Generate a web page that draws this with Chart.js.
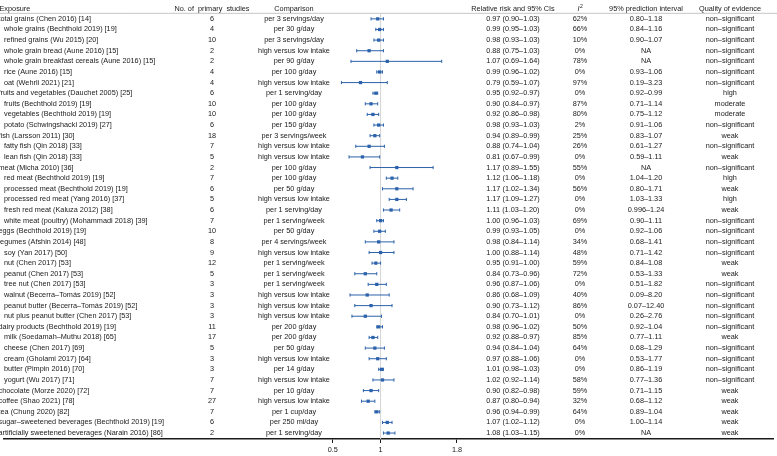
<!DOCTYPE html>
<html>
<head>
<meta charset="utf-8">
<script src="https://cdn.jsdelivr.net/npm/chart.js@4.4.1/dist/chart.umd.min.js"></script>
<style>
html,body{margin:0;padding:0;background:#fff;}
#wrap{width:777px;height:456px;}
</style>
</head>
<body>
<div id="wrap"><canvas id="forest"></canvas></div>
<script>
var exposures=["total grains (Chen 2016) [14]","whole grains (Bechthold 2019) [19]","refined grains (Wu 2015) [20]","whole grain bread (Aune 2016) [15]","whole grain breakfast cereals (Aune 2016) [15]","rice (Aune 2016) [15]","oat (Wehrli 2021) [21]","fruits and vegetables (Dauchet 2005) [25]","fruits (Bechthold 2019) [19]","vegetables (Bechthold 2019) [19]","potato (Schwingshackl 2019) [27]","fish (Larsson 2011) [30]","fatty fish (Qin 2018) [33]","lean fish (Qin 2018) [33]","meat (Micha 2010) [36]","red meat (Bechthold 2019) [19]","processed meat (Bechthold 2019) [19]","processed red meat (Yang 2016) [37]","fresh red meat (Kaluza 2012) [38]","white meat (poultry) (Mohammadi 2018) [39]","eggs (Bechthold 2019) [19]","legumes (Afshin 2014) [48]","soy (Yan 2017) [50]","nut (Chen 2017) [53]","peanut (Chen 2017) [53]","tree nut (Chen 2017) [53]","walnut (Becerra\u2013Tomás 2019) [52]","peanut butter (Becerra\u2013Tomás 2019) [52]","nut plus peanut butter (Chen 2017) [53]","dairy products (Bechthold 2019) [19]","milk (Soedamah\u2013Muthu 2018) [65]","cheese (Chen 2017) [69]","cream (Gholami 2017) [64]","butter (Pimpin 2016) [70]","yogurt (Wu 2017) [71]","chocolate (Morze 2020) [72]","coffee (Shao 2021) [78]","tea (Chung 2020) [82]","sugar\u2013sweetened beverages (Bechthold 2019) [19]","artificially sweetened beverages (Narain 2016) [86]"];
var subItem=[0,1,1,1,1,1,1,0,1,1,1,0,1,1,0,1,1,1,1,1,0,0,1,1,1,1,1,1,1,0,1,1,1,1,1,0,0,0,0,0];
var studies=[6,4,10,2,2,4,4,6,10,10,6,18,7,5,2,7,6,5,6,7,10,8,9,12,5,3,3,3,3,11,17,5,3,3,7,7,27,7,6,2];
var comparisons=["per 3 servings/day","per 30 g/day","per 3 servings/day","high versus low intake","per 90 g/day","per 100 g/day","high versus low intake","per 1 serving/day","per 100 g/day","per 100 g/day","per 150 g/day","per 3 servings/week","high versus low intake","high versus low intake","per 100 g/day","per 100 g/day","per 50 g/day","high versus low intake","per 1 serving/day","per 1 serving/week","per 50 g/day","per 4 servings/week","high versus low intake","per 1 serving/week","per 1 serving/week","per 1 serving/week","high versus low intake","high versus low intake","high versus low intake","per 200 g/day","per 200 g/day","per 50 g/day","high versus low intake","per 14 g/day","high versus low intake","per 10 g/day","high versus low intake","per 1 cup/day","per 250 ml/day","per 1 serving/day"];
var rr=[0.97,0.99,0.98,0.88,1.07,0.99,0.79,0.95,0.90,0.92,0.98,0.94,0.88,0.81,1.17,1.12,1.17,1.17,1.11,1.00,0.99,0.98,1.00,0.95,0.84,0.96,0.86,0.90,0.84,0.98,0.92,0.94,0.97,1.01,1.02,0.90,0.87,0.96,1.07,1.08];
var ciLow=[0.90,0.95,0.93,0.75,0.69,0.96,0.59,0.92,0.84,0.86,0.93,0.89,0.74,0.67,0.89,1.06,1.02,1.09,1.03,0.96,0.93,0.84,0.88,0.91,0.73,0.87,0.68,0.73,0.70,0.96,0.88,0.84,0.88,0.98,0.92,0.82,0.80,0.94,1.02,1.03];
var ciHigh=[1.03,1.03,1.03,1.03,1.64,1.02,1.07,0.97,0.97,0.98,1.03,0.99,1.04,0.99,1.55,1.18,1.34,1.27,1.20,1.03,1.05,1.14,1.14,1.00,0.96,1.06,1.09,1.12,1.01,1.02,0.97,1.04,1.06,1.03,1.14,0.98,0.94,0.99,1.12,1.15];
var i2=["62%","66%","10%","0%","78%","0%","97%","0%","87%","80%","2%","25%","26%","0%","55%","0%","56%","0%","0%","69%","0%","34%","48%","59%","72%","0%","40%","86%","0%","50%","85%","64%","0%","0%","58%","59%","32%","64%","0%","0%"];
var predInt=["0.80\u20131.18","0.84\u20131.16","0.90\u20131.07","NA","NA","0.93\u20131.06","0.19\u20133.23","0.92\u20130.99","0.71\u20131.14","0.75\u20131.12","0.91\u20131.06","0.83\u20131.07","0.61\u20131.27","0.59\u20131.11","NA","1.04\u20131.20","0.80\u20131.71","1.03\u20131.33","0.996\u20131.24","0.90\u20131.11","0.92\u20131.06","0.68\u20131.41","0.71\u20131.42","0.84\u20131.08","0.53\u20131.33","0.51\u20131.82","0.09\u20138.20","0.07\u201312.40","0.26\u20132.76","0.92\u20131.04","0.77\u20131.11","0.68\u20131.29","0.53\u20131.77","0.86\u20131.19","0.77\u20131.36","0.71\u20131.15","0.68\u20131.12","0.89\u20131.04","1.00\u20131.14","NA"];
var NS="non\u2013significant";
var quality=[NS,NS,NS,NS,NS,NS,NS,"high","moderate","moderate",NS,"weak",NS,"weak",NS,"high","weak","high","weak",NS,NS,NS,NS,"weak","weak",NS,NS,NS,NS,NS,"weak",NS,NS,NS,NS,"weak","weak","weak","weak","weak"];
var xTicks=[0.5,1,1.8];

var BLUE="#2b62ab";
var INK="#1a1a1a";
var FONT='7.3px "Liberation Sans", Arial, sans-serif';
var cols={studies:212,comparison:294,rr:513,i2:580,pi:646,quality:730};

// map: value 1 sits at x=380.5, 96.5 px per unit over the full 777 px width
var xMin=1-380.5/96.5, xMax=1+(777-380.5)/96.5;

var points=rr.map(function(v,i){return {x:v,y:i};});

var tablePlugin={
    id:"table",
    beforeDatasetsDraw:function(chart){
        var ctx=chart.ctx, xs=chart.scales.x, ys=chart.scales.y;
        var top=ys.getPixelForValue(-0.52), bottom=chart.chartArea.bottom;
        var x1=xs.getPixelForValue(1);
        ctx.save();
        ctx.strokeStyle="#b8b8b8"; ctx.lineWidth=0.8;
        ctx.beginPath(); ctx.moveTo(0,top); ctx.lineTo(chart.width,top); ctx.stroke();
        ctx.strokeStyle="#d4d4d4"; ctx.lineWidth=1;
        ctx.beginPath(); ctx.moveTo(x1,top); ctx.lineTo(x1,bottom); ctx.stroke();
        // confidence intervals
        ctx.strokeStyle=BLUE; ctx.lineWidth=1;
        for(var i=0;i<rr.length;i++){
            var y=ys.getPixelForValue(i);
            var a=xs.getPixelForValue(ciLow[i]), b=xs.getPixelForValue(ciHigh[i]);
            ctx.beginPath();
            ctx.moveTo(a,y); ctx.lineTo(b,y);
            ctx.moveTo(a,y-1.6); ctx.lineTo(a,y+1.6);
            ctx.moveTo(b,y-1.6); ctx.lineTo(b,y+1.6);
            ctx.stroke();
        }
        ctx.restore();
    },
    afterDraw:function(chart){
        var ctx=chart.ctx, ys=chart.scales.y;
        ctx.save();
        ctx.font=FONT; ctx.fillStyle=INK; ctx.textBaseline="middle";
        var hy=ys.getPixelForValue(-0.94);
        ctx.textAlign="left"; ctx.fillText("Exposure",-0.5,hy);
        ctx.textAlign="center";
        ctx.fillText("No. of  primary  studies",cols.studies,hy);
        ctx.fillText("Comparison",cols.comparison,hy);
        ctx.fillText("Relative risk and 95% CIs",cols.rr,hy);
        ctx.fillText("95% prediction interval",cols.pi,hy);
        ctx.fillText("Quality of evidence",cols.quality,hy);
        ctx.font='italic '+FONT; ctx.fillText("I",cols.i2-1.5,hy);
        ctx.font='5px "Liberation Sans", Arial, sans-serif'; ctx.fillText("2",cols.i2+1.5,hy-2);
        ctx.font=FONT;
        for(var i=0;i<exposures.length;i++){
            var y=ys.getPixelForValue(i);
            ctx.textAlign="left";
            ctx.fillText(exposures[i],subItem[i]?4:-1.5,y);
            ctx.textAlign="center";
            ctx.fillText(String(studies[i]),cols.studies,y);
            ctx.fillText(comparisons[i],cols.comparison,y);
            ctx.fillText(rr[i].toFixed(2)+" ("+ciLow[i].toFixed(2)+"\u2013"+ciHigh[i].toFixed(2)+")",cols.rr,y);
            ctx.fillText(i2[i],cols.i2,y);
            ctx.fillText(predInt[i],cols.pi,y);
            ctx.fillText(quality[i],cols.quality,y);
        }
        ctx.restore();
    }
};

var chart=new Chart(document.getElementById("forest"),{
    type:"scatter",
    data:{
        datasets:[{
            label:"Relative risk",
            data:points,
            pointStyle:"rect",
            pointRadius:2.3,
            backgroundColor:BLUE,
            borderWidth:0
        }]
    },
    options:{
        responsive:true,
        maintainAspectRatio:false,
        animation:false,
        layout:{padding:0},
        plugins:{legend:{display:false},tooltip:{enabled:false}},
        scales:{
            x:{
                type:"linear",
                min:xMin,
                max:xMax,
                afterBuildTicks:function(s){s.ticks=xTicks.map(function(v){return {value:v};});},
                afterFit:function(s){s.height=17;},
                ticks:{
                    callback:function(v){return String(v);},
                    font:{family:'"Liberation Sans", Arial, sans-serif',size:7.3},
                    color:INK,
                    padding:3,
                    maxRotation:0,
                    autoSkip:false
                },
                grid:{drawOnChartArea:false,drawTicks:true,tickLength:4,color:INK},
                border:{display:true,color:INK,width:1.5}
            },
            y:{
                type:"linear",
                display:false,
                reverse:true,
                min:-1.3995,
                max:39.56
            }
        }
    },
    plugins:[tablePlugin]
});
</script>
</body>
</html>
